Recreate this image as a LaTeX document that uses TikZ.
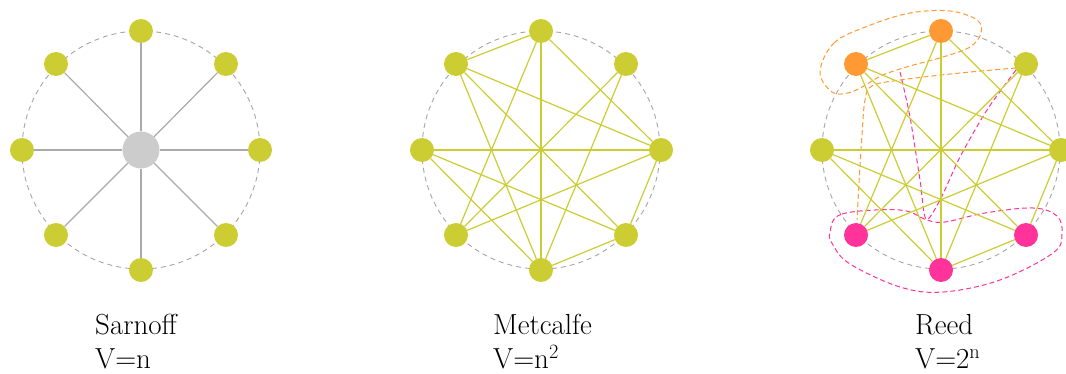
\documentclass[tikz,border=0pt]{standalone}
\usetikzlibrary{calc}
\definecolor{yg}{RGB}{204,204,51}
\definecolor{org}{RGB}{255,153,51}
\definecolor{pnk}{RGB}{255,51,153}
\definecolor{hubc}{RGB}{204,204,204}
\definecolor{spokec}{RGB}{170,170,170}
\definecolor{ringc}{RGB}{165,165,165}
\tikzset{
  dot/.style={circle,fill=yg,draw=none,minimum size=24pt,inner sep=0pt},
  odot/.style={dot,fill=org},
  pdot/.style={dot,fill=pnk},
  hub/.style={circle,fill=hubc,draw=none,minimum size=37pt,inner sep=0pt},
  ring/.style={draw=ringc,line width=0.9pt,dash pattern=on 5pt off 4pt},
  spoke/.style={draw=spokec,line width=1.2pt},
  link/.style={draw=yg,line width=1.2pt},
  ohyper/.style={draw=org,line width=1pt,dash pattern=on 5pt off 3pt},
  phyper/.style={draw=pnk,line width=1pt,dash pattern=on 5pt off 3pt},
  lbl/.style={anchor=base west,inner sep=0pt,font=\fontsize{29}{33}\selectfont}
}
\begin{document}
\begin{tikzpicture}[x=1pt,y=-1pt]
\useasboundingbox (0,0) rectangle (1066,374);
\clip (0,0) rectangle (1066,374);
% ---------- Sarnoff ----------
\draw[ring] (141,150) circle[radius=119];
\node[hub] (sH) at (141,150) {};
\foreach \n/\dx/\dy in {N/0/-119,NE/85/-86,E/119/0,SE/85/85,S/0/120,SW/-85/85,W/-119/0,NW/-85/-86}{
  \node[dot] (s\n) at (141+\dx,150+\dy) {};
  \draw[spoke] (sH) -- (s\n);
}
% ---------- Metcalfe ----------
\draw[ring] (541,150) circle[radius=119];
\foreach \n/\dx/\dy in {N/0/-119,NE/85/-86,E/120/0,SE/85/85,S/0/120,SW/-85/85,W/-119/0,NW/-85/-86}{
  \node[dot] (m\n) at (541+\dx,150+\dy) {};
}
\foreach \a/\b in {N/NW,N/E,N/S,N/SW,NW/E,NW/SE,NW/S,NE/SW,NE/S,W/E,W/SE,W/S,E/SW,E/SE,S/SE}{
  \draw[link] (m\a) -- (m\b);
}
% ---------- Reed ----------
\draw[ring] (941,150) circle[radius=119];
% hyperedges
\draw[ohyper] plot[smooth cycle,tension=0.6] coordinates {(820,72) (834,43) (868,26) (910,13) (950,11) (977,20) (981,33) (970,47) (943,57) (910,66) (883,75) (862,87) (848,93) (832,92)};
\draw[ohyper] plot[smooth,tension=0.6] coordinates {(1016,68) (960,73) (900,80) (872,86) (865,100) (862,135) (859,183) (857,220)};
\draw[phyper] plot[smooth,tension=0.5] coordinates {(900,72) (910,117) (920,180) (926,219) (940,200) (960,157) (987,110) (1016,70)};
\draw[phyper] plot[smooth cycle,tension=0.6] coordinates {(830,232) (842,214) (900,210) (927,220) (945,222) (985,213) (1033,208) (1057,216) (1062,234) (1053,253) (1000,280) (943,292) (900,287) (850,264) (833,245)};
\foreach \n/\dx/\dy/\s in {N/0/-119/odot,NE/85/-86/dot,E/120/0/dot,SE/85/85/pdot,S/0/120/pdot,SW/-85/85/pdot,W/-119/0/dot,NW/-85/-86/odot}{
  \node[\s] (r\n) at (941+\dx,150+\dy) {};
}
\foreach \a/\b in {N/NW,N/E,N/S,N/SW,NW/E,NW/SE,NW/S,NE/SW,NE/S,W/E,W/SE,W/S,E/SW,E/SE,S/SE}{
  \draw[link] (r\a) -- (r\b);
}
% ---------- labels ----------
\node[lbl] (t1) at (95,334) {Sarnoff};
\node[lbl] (v1) at (95,368) {V=n};
\node[lbl] (t2) at (493,334) {Metcalfe};
\node[lbl] (v2) at (493,368) {V=n\textsuperscript{2}};
\node[lbl] (t3) at (915,334) {Reed};
\node[lbl] (v3) at (915,368) {V=2\textsuperscript{n}};
\end{tikzpicture}
\end{document}
